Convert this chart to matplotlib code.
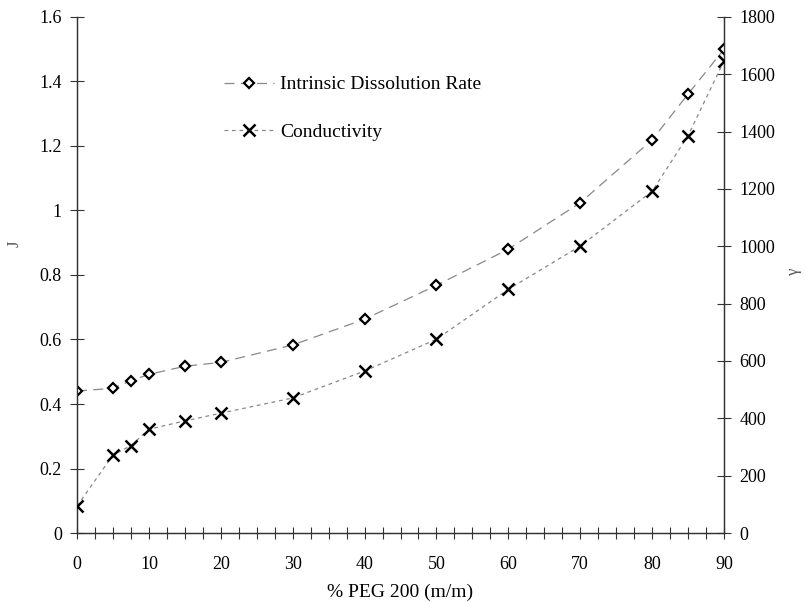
import matplotlib
matplotlib.use("Agg")
import matplotlib.pyplot as plt
from matplotlib.ticker import MultipleLocator

peg = [0, 5, 7.5, 10, 15, 20, 30, 40, 50, 60, 70, 80, 85, 90]
idr = [0.440, 0.449, 0.472, 0.492, 0.517, 0.529, 0.583, 0.663, 0.768, 0.880, 1.024, 1.219, 1.361, 1.500]
cond = [94, 272, 305, 362, 391, 418, 471, 565, 676, 850, 1001, 1192, 1386, 1647]

xticks = [0, 10, 20, 30, 40, 50, 60, 70, 80, 90]
yleft_ticks = [0, 0.2, 0.4, 0.6, 0.8, 1, 1.2, 1.4, 1.6]
yleft_labels = ["0", "0.2", "0.4", "0.6", "0.8", "1", "1.2", "1.4", "1.6"]
yright_ticks = [0, 200, 400, 600, 800, 1000, 1200, 1400, 1600, 1800]

plt.rcParams['font.family'] = ['Liberation Serif', 'DejaVu Serif']

fig = plt.figure(figsize=(8.05, 6.02), dpi=100)
ax = fig.add_axes([0.0957, 0.1146, 0.8037, 0.8572])
ax2 = ax.twinx()

axis_col = "#333333"
line_col = "#888888"

l1, = ax.plot(peg, idr, color=line_col, lw=0.9, ls=(0, (8, 5)),
              marker='D', ms=5.5, mfc='white', mec='black', mew=1.6, zorder=3)
l2, = ax2.plot(peg, cond, color=line_col, lw=0.9, ls=(0, (3, 3)),
               marker='x', ms=8, mec='black', mew=1.8, zorder=3)

ax.set_xlim(0, 90)
ax.set_ylim(0, 1.6)
ax2.set_ylim(0, 1800)

ax.set_xticks(xticks)
ax.xaxis.set_minor_locator(MultipleLocator(2.5))
ax.set_yticks(yleft_ticks)
ax.set_yticklabels(yleft_labels)
ax2.set_yticks(yright_ticks)

for a in (ax, ax2):
    for s in a.spines.values():
        s.set_color(axis_col)
        s.set_linewidth(0.9)
    a.spines['top'].set_visible(False)

ax.tick_params(axis='x', which='both', direction='inout', length=9, width=0.8,
               color=axis_col, labelsize=13, pad=12)
ax.tick_params(axis='y', direction='inout', length=10, width=0.8, color=axis_col,
               labelsize=13, pad=6)
ax2.tick_params(axis='y', direction='inout', length=10, width=0.8, color=axis_col,
                labelsize=13, pad=6)

ax.set_xlabel("% PEG 200 (m/m)", fontsize=14, labelpad=8)
fig.text(15 / 805, 1 - 244 / 602, "J", rotation=90, ha='center', va='center',
         fontsize=12, color="#555555")
fig.text(794 / 805, 1 - 271 / 602, "γ", rotation=90, ha='center', va='center',
         fontsize=12, color="#555555")

leg = ax.legend([l1, l2], ["Intrinsic Dissolution Rate", "Conductivity"],
                loc='upper left', bbox_to_anchor=(0.2, 0.92), frameon=False,
                fontsize=14, handlelength=2.6, handletextpad=0.3, labelspacing=1.55)

fig.savefig("out.png", dpi=100)
